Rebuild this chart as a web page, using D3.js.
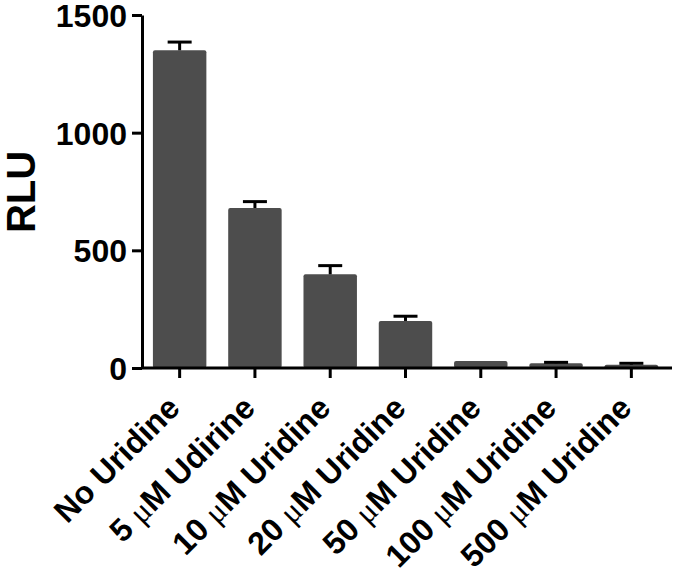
<!DOCTYPE html>
<html>
<head>
<meta charset="utf-8">
<script src="https://cdn.jsdelivr.net/npm/d3@7"></script>
<style>
  body { margin: 0; background: #fff; }
  svg { display: block; font-family: "Liberation Sans", Arial, sans-serif; }
</style>
</head>
<body>
<div id="chart"></div>
<script>
// data
let conc = ["No", "5", "10", "20", "50", "100", "500"]
let names = ["Uridine", "Udirine", "Uridine", "Uridine", "Uridine", "Uridine", "Uridine"]
let rlu = [1350, 680, 398, 200, 30, 20, 14]
let sem = [35, 27, 37, 20, 0, 4, 6]
let yTicks = [0, 500, 1000, 1500]

let svg = d3.select('#chart').append('svg')
    .attr('width', 675)
    .attr('height', 573)

let x = d3.scaleBand()
    .domain(d3.range(rlu.length))
    .range([142, 669])
    .paddingInner(0.29)
    .paddingOuter(0.145)

let y = d3.scaleLinear()
    .domain([0, 1500])
    .range([368, 15])

// bars
svg.append('g').selectAll('rect')
    .data(rlu)
    .join('rect')
    .attr('x', (d, i) => x(i))
    .attr('y', d => y(d))
    .attr('width', x.bandwidth())
    .attr('height', d => y(0) - y(d))
    .attr('rx', 2)
    .attr('fill', '#4d4d4d')

// error bars (upper only)
let err = svg.append('g')
    .attr('stroke', '#000')
    .attr('stroke-width', 3)
let withErr = rlu.map((d, i) => ({ v: d, e: sem[i], i: i })).filter(d => d.e > 0)
err.selectAll('.stem')
    .data(withErr)
    .join('line')
    .attr('x1', d => x(d.i) + x.bandwidth() / 2)
    .attr('x2', d => x(d.i) + x.bandwidth() / 2)
    .attr('y1', d => y(d.v))
    .attr('y2', d => y(d.v + d.e))
err.selectAll('.cap')
    .data(withErr)
    .join('line')
    .attr('x1', d => x(d.i) + x.bandwidth() / 2 - 12)
    .attr('x2', d => x(d.i) + x.bandwidth() / 2 + 12)
    .attr('y1', d => y(d.v + d.e))
    .attr('y2', d => y(d.v + d.e))

// y axis
let yAxis = svg.append('g')
    .attr('transform', 'translate(142,0)')
    .call(d3.axisLeft(y).tickValues(yTicks).tickFormat(d3.format('d'))
        .tickSize(10).tickSizeOuter(0).tickPadding(5))
yAxis.select('.domain').attr('stroke-width', 3)
yAxis.selectAll('.tick line').attr('stroke-width', 3)
yAxis.selectAll('.tick text')
    .attr('font-size', 32)
    .attr('font-weight', 'bold')
    .attr('font-family', '"Liberation Sans", Arial, sans-serif')
    .attr('fill', '#000')
    .attr('dy', '0.36em')

// x axis
let xAxis = svg.append('g')
    .attr('transform', 'translate(0,368)')
xAxis.append('line')
    .attr('x1', 142)
    .attr('x2', 672)
    .attr('stroke', '#000')
    .attr('stroke-width', 3)
xAxis.selectAll('.tk')
    .data(rlu)
    .join('line')
    .attr('x1', (d, i) => x(i) + x.bandwidth() / 2)
    .attr('x2', (d, i) => x(i) + x.bandwidth() / 2)
    .attr('y1', 0)
    .attr('y2', 10)
    .attr('stroke', '#000')
    .attr('stroke-width', 3)

let labels = xAxis.selectAll('.lbl')
    .data(conc)
    .join('text')
    .attr('transform', (d, i) => `translate(${x(i) + x.bandwidth() / 2 + 2},${42}) rotate(-45)`)
    .attr('text-anchor', 'end')
    .attr('font-size', 32)
    .attr('font-weight', 'bold')
    .attr('fill', '#000')
labels.each(function (d, i) {
    let t = d3.select(this)
    if (d === 'No') {
        t.append('tspan').text('No ' + names[i])
    } else {
        t.append('tspan').text(d + ' ')
        t.append('tspan')
            .attr('font-family', '"Liberation Serif", "DejaVu Serif", serif')
            .attr('font-weight', 'normal')
            .text('\u03bc')
        t.append('tspan').text('M ' + names[i])
    }
})

// y title
svg.append('text')
    .attr('transform', 'translate(35,192) rotate(-90)')
    .attr('text-anchor', 'middle')
    .attr('font-size', 40)
    .attr('font-weight', 'bold')
    .attr('fill', '#000')
    .text('RLU')
</script>
</body>
</html>
